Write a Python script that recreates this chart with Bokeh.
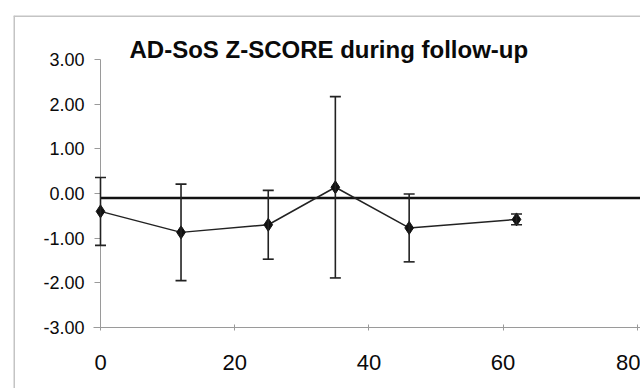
from bokeh.plotting import figure
from bokeh.models import (ColumnDataSource, Whisker, TeeHead, Span, Label, FixedTicker,
                          NumeralTickFormatter, Range1d, LinearAxis)
from bokeh.embed import file_html
from bokeh.resources import INLINE

# ---- data ----
title_text = "AD-SoS Z-SCORE during follow-up"
months = [0, 12, 25, 35, 46, 62]
z_mean = [-0.40, -0.87, -0.70, 0.14, -0.77, -0.58]
z_sd = [0.76, 1.08, 0.77, 2.03, 0.76, 0.12]
ref_z = -0.10
x_ticks = [0, 20, 40, 60, 80]
y_ticks = [-3, -2, -1, 0, 1, 2, 3]

# ---- layout (pixels) ----
W, H = 640, 388
FRAME_L, FRAME_T = 13, 15          # light grey chart-area border
X0_PX, PX_PER_X = 100, 6.71        # where x=0 sits, px per unit
Y3_PX, PX_PER_Y = 59, 44.67        # where y=3 sits, px per unit

x_start = x_ticks[0] - (X0_PX - FRAME_L) / PX_PER_X
x_end = x_ticks[0] + (W - X0_PX) / PX_PER_X
y_end = y_ticks[-1] + (Y3_PX - FRAME_T) / PX_PER_Y
y_start = y_ticks[-1] - (H - Y3_PX) / PX_PER_Y

src = ColumnDataSource(dict(
    x=months, y=z_mean,
    lower=[m - s for m, s in zip(z_mean, z_sd)],
    upper=[m + s for m, s in zip(z_mean, z_sd)],
))

p = figure(width=W, height=H, output_backend="svg", toolbar_location=None,
           x_range=Range1d(x_start, x_end), y_range=Range1d(y_start, y_end),
           x_axis_location=None, y_axis_location=None,
           min_border_left=FRAME_L, min_border_right=0, min_border_top=FRAME_T, min_border_bottom=0,
           background_fill_color="white", border_fill_color="white")
p.outline_line_color = None
p.grid.visible = False

xax = LinearAxis(fixed_location=y_ticks[0], bounds=(x_ticks[0] - 1, x_end))
yax = LinearAxis(fixed_location=x_ticks[0], bounds=(y_ticks[0], y_ticks[-1]))
p.add_layout(xax, "below")
p.add_layout(yax, "left")

font = "Liberation Sans"
for ax in (xax, yax):
    ax.axis_line_color = "#9a9a9a"
    ax.axis_line_width = 1
    ax.major_tick_line_color = "#9a9a9a"
    ax.minor_tick_line_color = None
    ax.major_label_text_font = font
    ax.major_label_text_color = "#0a0a0a"

xax.ticker = FixedTicker(ticks=x_ticks)
xax.major_tick_in = 3
xax.major_tick_out = 3
xax.major_label_standoff = 24
xax.major_label_text_font_size = "22px"

yax.ticker = FixedTicker(ticks=y_ticks)
yax.formatter = NumeralTickFormatter(format="0.00")
yax.major_tick_in = 0
yax.major_tick_out = 6
yax.major_label_standoff = 10
yax.major_label_text_font_size = "18px"

# chart-area border: left and top edges of the frame
p.add_layout(Span(location=x_start, dimension="height", line_color="#c4c4c4", line_width=3))
p.add_layout(Span(location=y_end, dimension="width", line_color="#c4c4c4", line_width=3))

# reference line from the y axis to the right edge
p.line(x=[x_ticks[0], x_end], y=[ref_z, ref_z], line_color="#111111", line_width=2.5,
       level="overlay")

# error bars
p.add_layout(Whisker(source=src, base="x", lower="lower", upper="upper",
                     line_color="#222222", line_width=1.6, level="overlay",
                     upper_head=TeeHead(size=11, line_color="#222222", line_width=1.6),
                     lower_head=TeeHead(size=11, line_color="#222222", line_width=1.6)))

# series
p.line("x", "y", source=src, line_color="#222222", line_width=1.5, level="overlay")
p.scatter("x", "y", source=src, marker="diamond", size=13,
          fill_color="#111111", line_color="#111111", level="overlay")

# title
p.add_layout(Label(x=(129 - X0_PX) / PX_PER_X, y=y_ticks[-1] + (Y3_PX - 49) / PX_PER_Y,
                   text=title_text, text_font=font,
                   text_font_style="bold", text_font_size="24px", text_color="#0a0a0a",
                   text_align="left", text_baseline="alphabetic"))

open("out.html", "w").write(file_html(p, INLINE))
